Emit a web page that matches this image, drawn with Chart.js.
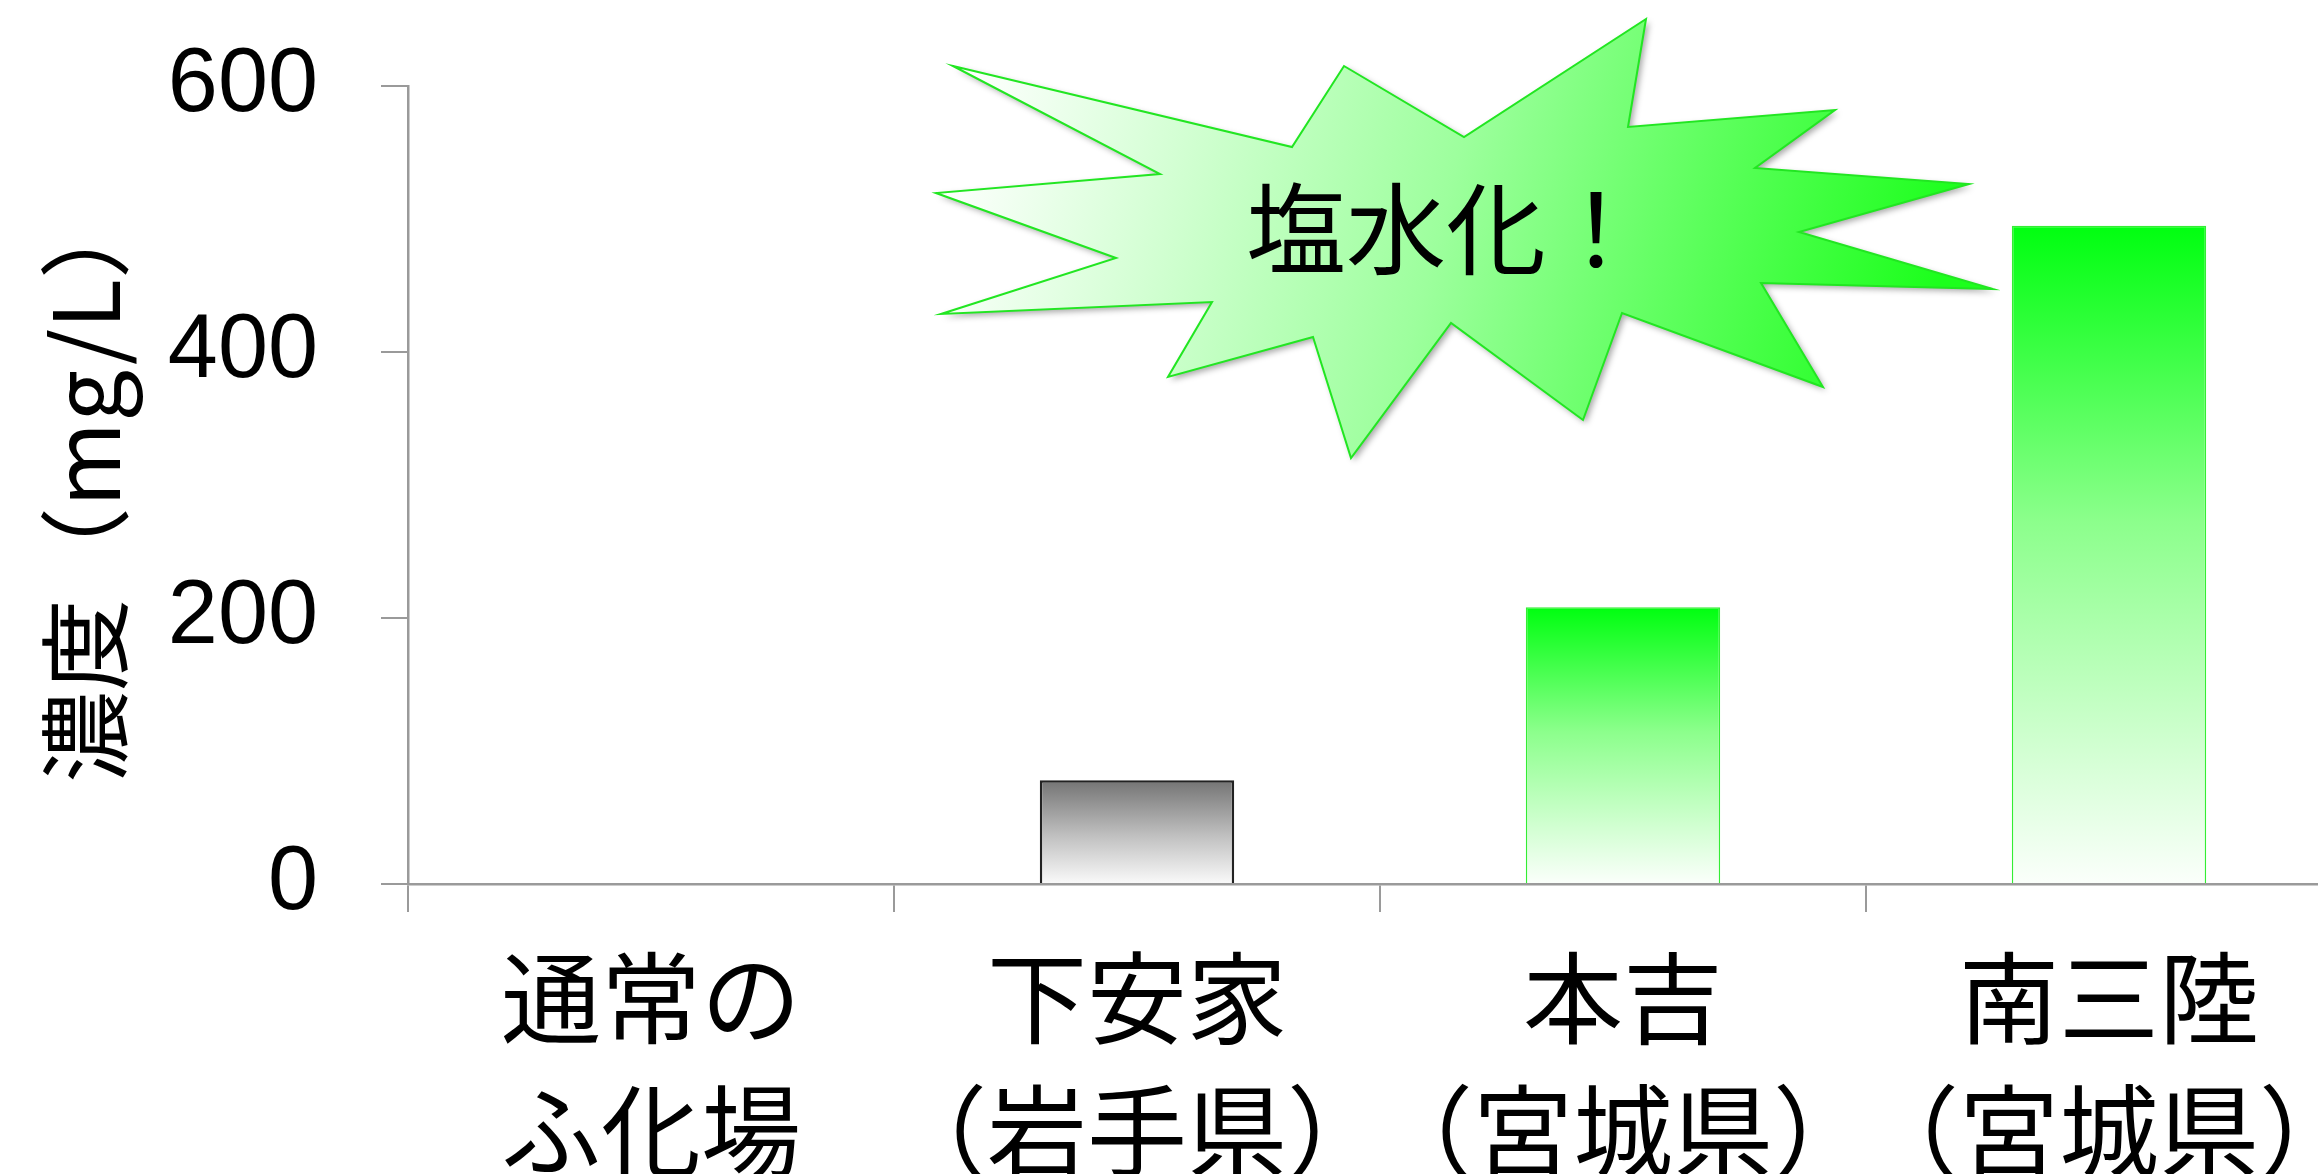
<!DOCTYPE html>
<html>
<head>
<meta charset="utf-8">
<script src="https://cdn.jsdelivr.net/npm/chart.js@4.4.0/dist/chart.umd.min.js"></script>
<style>
  html, body { margin: 0; padding: 0; overflow: hidden; background: #fff; }
  canvas { display: block; }
</style>
</head>
<body>
<canvas id="chart" width="2352" height="1174"></canvas>
<script>
// data
const categories = [
  ['通常の', 'ふ化場'],
  ['下安家', '（岩手県）'],
  ['本吉', '（宮城県）'],
  ['南三陸', '（宮城県）']
];
const concentration = [0, 78, 208, 495];
const yTicks = [0, 200, 400, 600];
const yTitle = '濃度（mg/L）';
const burstText = '塩水化！';

const CJK = '"Noto Sans CJK JP", "Noto Sans CJK SC", sans-serif';

// vertical gradient from the bar top down to the axis
function barFill(ctx) {
  const chart = ctx.chart;
  const y = chart.scales && chart.scales.y;
  if (!y || !chart.chartArea) return '#88ff88';
  const top = y.getPixelForValue(ctx.raw);
  const bottom = y.getPixelForValue(0);
  const g = chart.ctx.createLinearGradient(0, top, 0, bottom);
  if (ctx.dataIndex === 1) {
    g.addColorStop(0, '#747474');
    g.addColorStop(0.55, '#c2c2c2');
    g.addColorStop(1, '#fafafa');
  } else {
    g.addColorStop(0, '#00ff10');
    g.addColorStop(0.45, '#8cff8c');
    g.addColorStop(1, '#fbfffb');
  }
  return g;
}

// the "salt water" star burst callout
const burst = [
  [953, 66], [1292, 147], [1344, 66], [1464, 137], [1646, 19], [1628, 127],
  [1835, 110], [1755, 168], [1969, 184], [1799, 232], [1993, 289], [1761, 283],
  [1823, 387], [1622, 313], [1583, 420], [1451, 323], [1351, 458], [1313, 337],
  [1168, 377], [1212, 302], [941, 314], [1116, 258], [936, 193], [1160, 174]
];

const burstPlugin = {
  id: 'burst',
  afterDraw(chart) {
    const c = chart.ctx;
    c.save();
    c.beginPath();
    burst.forEach((p, i) => i ? c.lineTo(p[0], p[1]) : c.moveTo(p[0], p[1]));
    c.closePath();
    const g = c.createLinearGradient(940, 180, 1900, 430);
    g.addColorStop(0, '#ffffff');
    g.addColorStop(0.5, '#9dff9d');
    g.addColorStop(1, '#1cff1c');
    c.fillStyle = g;
    c.shadowColor = 'rgba(0,0,0,0.35)';
    c.shadowBlur = 6;
    c.shadowOffsetX = 3;
    c.shadowOffsetY = 3;
    c.fill();
    c.shadowColor = 'transparent';
    c.strokeStyle = '#22e622';
    c.lineWidth = 2;
    c.stroke();
    c.fillStyle = '#000';
    c.font = '100px ' + CJK;
    c.textAlign = 'center';
    c.textBaseline = 'middle';
    c.fillText(burstText, 1446, 229);
    c.restore();
  }
};

new Chart(document.getElementById('chart'), {
  type: 'bar',
  data: {
    labels: categories,
    datasets: [{
      data: concentration,
      backgroundColor: barFill,
      borderColor: ['#33ee33', '#222222', '#33ee33', '#33ee33'],
      borderWidth: [1.5, 2.5, 1.5, 1.5],
      barPercentage: 0.4,
      categoryPercentage: 1.0
    }]
  },
  options: {
    responsive: false,
    animation: false,
    layout: { padding: { top: 86, left: 0, right: 0, bottom: 0 } },
    plugins: {
      legend: { display: false },
      tooltip: { enabled: false }
    },
    scales: {
      x: {
        grid: {
          offset: true,
          drawOnChartArea: false,
          color: '#9a9a9a',
          lineWidth: 2,
          tickLength: 28
        },
        border: { color: '#9a9a9a', width: 2.5 },
        ticks: {
          color: '#000',
          font: { family: CJK, size: 100, lineHeight: 1.33 },
          padding: 19,
          maxRotation: 0,
          minRotation: 0,
          autoSkip: false
        },
        afterFit(scale) {
          scale.height = 290;
          scale.paddingLeft = 0;
          scale.paddingRight = 0;
        }
      },
      y: {
        min: 0,
        max: 600,
        afterBuildTicks(scale) { scale.ticks = yTicks.map(v => ({ value: v })); },
        grid: {
          drawOnChartArea: false,
          color: '#9a9a9a',
          lineWidth: 2,
          tickLength: 27
        },
        border: { color: '#9a9a9a', width: 2.5 },
        ticks: {
          color: '#000',
          font: { family: '"Liberation Sans", Arial, sans-serif', size: 90 },
          padding: 63
        },
        title: {
          display: true,
          text: yTitle,
          color: '#000',
          font: { family: CJK, size: 92 },
          padding: { top: 30, bottom: 0 }
        },
        afterFit(scale) {
          scale.width = 408;
          scale.paddingTop = 0;
          scale.paddingBottom = 0;
        }
      }
    }
  },
  plugins: [burstPlugin]
});
</script>
</body>
</html>
